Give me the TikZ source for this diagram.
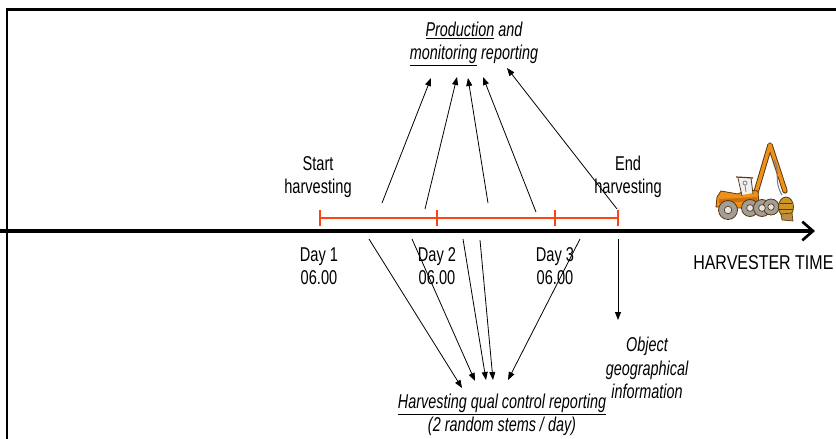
\documentclass[tikz,border=0pt]{standalone}
\usepackage{fontspec}
\setmainfont{Liberation Sans}[FakeStretch=0.73, ItalicFeatures={FakeStretch=0.72}]
\newfontfamily\axisfont{Liberation Sans}[FakeStretch=0.8]
\usetikzlibrary{arrows.meta}
\definecolor{barred}{RGB}{250,70,20}
\definecolor{machine}{RGB}{238,145,25}
\definecolor{machinedeep}{RGB}{205,110,15}
\definecolor{machinedark}{RGB}{90,55,15}
\definecolor{headcol}{RGB}{205,150,40}
\definecolor{tyre}{RGB}{160,158,150}
\begin{document}
\begin{tikzpicture}[x=0.75pt,y=-0.75pt,
  lbl/.style={font=\fontsize{15}{17.5}\selectfont, align=center, inner sep=0pt},
  ilbl/.style={lbl, font=\fontsize{15}{17.5}\selectfont\itshape},
  report/.style={-{Triangle[length=6pt,width=4.5pt]}, line width=0.6pt},
  daybar/.style={barred, line width=2.1pt},
  axis/.style={line width=2.6pt, -{Straight Barb[length=8pt,width=14pt,line width=2pt]}},
  wheel/.style={draw=machinedark, fill=tyre, line width=0.6pt}]
\useasboundingbox (0,0) rectangle (836,439);

% frame
\draw[line width=1.6pt, line join=miter] (7,439) -- (7,9.5) -- (836,9.5);

% harvester time axis
\coordinate (t0) at (0,231);
\coordinate (t1) at (815,231);
\draw[axis] (t0) -- (t1);

% harvesting period with day marks
\coordinate (d0) at (320,218);
\coordinate (d1) at (437,218);
\coordinate (d2) at (555,218);
\coordinate (d3) at (618,218);
\draw[daybar] (d0) -- (d3);
\foreach \d in {d0,d1,d2,d3}
  \draw[daybar] ([yshift=6pt]\d) -- ([yshift=-6pt]\d);

% labels
\node[lbl] (start) at (318,177) {Start\\harvesting};
\node[lbl] (end) at (628,177) {End\\harvesting};
\node[lbl] (day1) at (319,266) {Day 1\\06.00};
\node[lbl] (day2) at (437,266) {Day 2\\06.00};
\node[lbl] (day3) at (555,266) {Day 3\\06.00};
\node[ilbl] (prod) at (474,44) {\underline{Production} and\\\underline{monitoring} reporting};
\node[ilbl] (qual) at (502,415) {\underline{Harvesting qual control reporting}\\(2 random stems / day)};
\node[ilbl] (obj) at (647,368) {Object\\geographical\\information};
\node[lbl, font=\fontsize{15}{17.5}\axisfont, anchor=west] (htime) at (693,263) {HARVESTER TIME};

% production and monitoring reports
\coordinate (u1s) at (382,203); \coordinate (u1e) at (431,78);
\coordinate (u2s) at (425,209); \coordinate (u2e) at (457,77);
\coordinate (u3s) at (488,203); \coordinate (u3e) at (468,78);
\coordinate (u4s) at (536,212); \coordinate (u4e) at (483,77);
\coordinate (u5s) at (617,209); \coordinate (u5e) at (507,68);
\foreach \i in {1,...,5} \draw[report] (u\i s) -- (u\i e);

% quality control reports
\coordinate (q1s) at (369,239); \coordinate (q1e) at (462,388);
\coordinate (q2s) at (412,239); \coordinate (q2e) at (475,381);
\coordinate (q3s) at (463,239); \coordinate (q3e) at (486,380);
\coordinate (q4s) at (480,240); \coordinate (q4e) at (493,380);
\coordinate (q5s) at (580,239); \coordinate (q5e) at (508,380);
\foreach \i in {1,...,5} \draw[report] (q\i s) -- (q\i e);

% object information
\coordinate (os) at (618,239); \coordinate (oe) at (618,320);
\draw[report] (os) -- (oe);

% harvester
\begin{scope}
  % boom
  \draw[machinedark, line width=4pt, line join=round, line cap=round] (754,199) -- (770,145) -- (785,191);
  \draw[machine, line width=2.6pt, line join=round, line cap=round] (754,199) -- (770,145) -- (785,191);
  \draw[gray, line width=0.8pt] (774,160) .. controls (781,172) and (773,180) .. (782,195);
  % body
  \draw[machinedark, fill=machine, line width=0.6pt, line join=round]
    (716,207) -- (717,197) -- (721,191) -- (738,194) -- (746,190) -- (758,191) -- (759,206) -- (740,208) -- cycle;
  \fill[machinedeep] (719,199) -- (757,197) -- (757,201) -- (719,203) -- cycle;
  % cab
  \fill[white!88!gray] (739,179) -- (751,179) -- (753,193) -- (742,195) -- cycle;
  \draw[machinedark, line width=0.9pt] (736,177) -- (753,178);
  \draw[machinedark, line width=0.6pt] (738,178) -- (742,196) (751,178) -- (753,194);
  \draw[gray, line width=0.6pt] (745,183) circle[radius=2] (745,185) -- (746,192);
  % wheels
  \draw[wheel] (728,210) circle[radius=9.5];
  \draw[wheel] (750,208) circle[radius=8.5];
  \draw[wheel] (762,208) circle[radius=8.5];
  \draw[wheel] (771,207) circle[radius=8];
  \foreach \c/\cy/\r in {728/210/3.8, 750/208/3.4, 762/208/3.4, 771/207/3.2}
    \draw[machinedark, fill=white!80!gray, line width=0.5pt] (\c,\cy) circle[radius=\r];
  % harvester head
  \draw[machinedark, fill=headcol, line width=0.6pt] (786,207) ellipse[x radius=7.5, y radius=10];
  \draw[machinedark, fill=headcol!70!gray, line width=0.5pt] (781,214) -- (792,213) -- (793,221) -- (782,220) -- cycle;
  \draw[machinedark, line width=0.5pt] (780,203) -- (792,203) (779,209) -- (793,209);
\end{scope}
\end{tikzpicture}
\end{document}
